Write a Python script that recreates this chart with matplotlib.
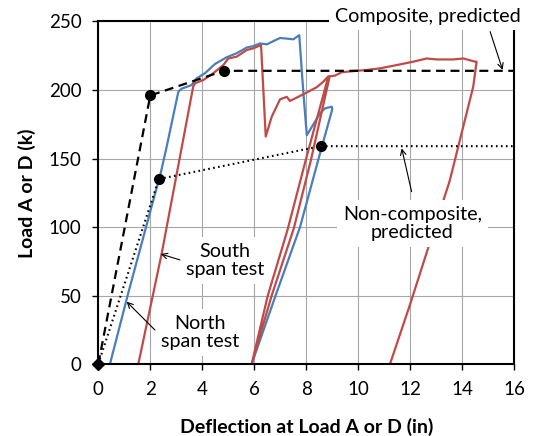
import matplotlib
matplotlib.use("Agg")
import matplotlib.pyplot as plt

plt.rcParams["font.family"] = ["Lato", "DejaVu Sans"]

# North span test (blue)
north_x = [0.45, 1.15, 2.25, 2.37, 2.63, 3.08, 3.21, 3.59, 3.78, 4.10, 4.49, 4.94,
           5.32, 5.71, 5.96, 6.22, 6.48, 6.99, 7.50, 7.73, 7.88, 8.02, 8.53, 8.72,
           8.98, 9.00, 8.46, 7.76, 6.82, 5.90]
north_y = [0, 51.6, 129, 136.7, 158.6, 198.8, 201, 203.6, 208.5, 212.2, 219, 223.9,
           226.8, 231, 232, 234, 233.3, 238, 237, 240, 200, 167, 183, 186.6,
           187.8, 186, 149, 100, 50, 0]

# South span test (red)
south_x = [1.54, 2.44, 3.65, 3.72, 4.04, 4.42, 4.81, 5.00, 5.32, 5.71, 5.96, 6.26,
           6.44, 6.67, 6.99, 7.25, 7.37, 7.88, 8.40, 8.65, 8.85, 7.98, 7.28, 6.52,
           5.90, 6.67, 7.52, 8.18, 8.90, 9.10, 9.36, 9.94, 10.32, 10.83, 11.48, 12.12,
           12.63, 13.02, 13.65, 14.04, 14.49, 14.55, 14.42, 13.52, 12.00, 11.22]
south_y = [0, 80.8, 202.4, 204.9, 207.3, 212.2, 218.2, 223, 224.3, 229.2, 230.4, 232.8,
           166, 180.5, 193.2, 195, 192, 196.8, 202, 206, 210, 149, 98, 50,
           0, 50, 99, 149, 210, 210.5, 213, 214, 214.6, 215.8, 218.2, 220.7,
           223, 222.3, 222.3, 223, 220.7, 220.7, 202.4, 134, 44, 0]

# predicted curves
comp_x = [0, 2.0, 4.83, 16]
comp_y = [0, 196, 214, 214]
noncomp_x = [0, 2.33, 8.55, 16]
noncomp_y = [0, 135, 159, 159]

BLUE = "#4A7EBB"
RED = "#BE4B48"

fig = plt.figure(figsize=(5.35, 4.36), dpi=100)
ax = fig.add_axes([0.1837, 0.1651, 0.9613 - 0.1837, 0.9507 - 0.1651])

ax.plot(north_x, north_y, color=BLUE, lw=1.6, zorder=2)
ax.plot(south_x, south_y, color=RED, lw=1.6, zorder=2)
ax.plot(comp_x, comp_y, color="black", lw=1.6, ls=(0, (4, 2.5)), zorder=2.2)
ax.plot(noncomp_x, noncomp_y, color="black", lw=1.5, ls=(0, (0.8, 1.6)), zorder=2.2)

# markers
ax.plot(comp_x[1:3], comp_y[1:3], "o", color="black", ms=7, zorder=2.3)
ax.plot(noncomp_x[1:3], noncomp_y[1:3], "o", color="black", ms=7, zorder=2.3)
ax.plot([comp_x[0]], [comp_y[0]], "D", color="black", ms=6, zorder=4, clip_on=False)

ax.set_xlim(0, 16)
ax.set_ylim(0, 250)
ax.set_xticks(range(0, 17, 2))
ax.set_yticks(range(0, 251, 50))
ax.grid(True, color="#A6A6A6", lw=0.8)
ax.set_axisbelow(True)
for s in ax.spines.values():
    s.set_linewidth(1.5)
    s.set_color("black")
ax.tick_params(direction="out", length=4, width=1, labelsize=13.5, pad=8)

ax.set_xlabel("Deflection at Load A or D (in)", fontsize=14, fontweight="bold", va="center")
ax.xaxis.set_label_coords(0.501, -0.183)
ax.set_ylabel("Load A or D (k)", fontsize=14, fontweight="bold", va="center")
ax.yaxis.set_label_coords(-0.172, 0.5)

box = dict(boxstyle="square,pad=0.3", facecolor="white", edgecolor="none")
arrow = dict(arrowstyle="->", color="black", lw=0.8, shrinkA=0, shrinkB=0)

ax.text(12.66, 254, "Composite, predicted", fontsize=14.2, ha="center", va="center",
        bbox=box, zorder=5, clip_on=False)
ax.annotate("", xy=(15.55, 214.7), xytext=(15.07, 242.6), arrowprops=arrow, zorder=5)

ax.text(12.08, 102.7, "Non-composite,\npredicted", fontsize=14.2, ha="center", va="center",
        bbox=box, zorder=5, linespacing=1.1)
ax.annotate("", xy=(11.67, 157.4), xytext=(12.05, 125.8), arrowprops=arrow, zorder=5)

ax.text(4.88, 75.4, "South\nspan test", fontsize=14.2, ha="center", va="center",
        bbox=box, zorder=5, linespacing=1.1)
ax.annotate("", xy=(2.4, 80.3), xytext=(3.14, 76), arrowprops=arrow, zorder=5)

ax.text(3.92, 23.1, "North\nspan test", fontsize=14.2, ha="center", va="center",
        bbox=box, zorder=5, linespacing=1.1)
ax.annotate("", xy=(1.09, 45.5), xytext=(2.18, 24.8), arrowprops=arrow, zorder=5)

fig.savefig("out.png", dpi=100)
